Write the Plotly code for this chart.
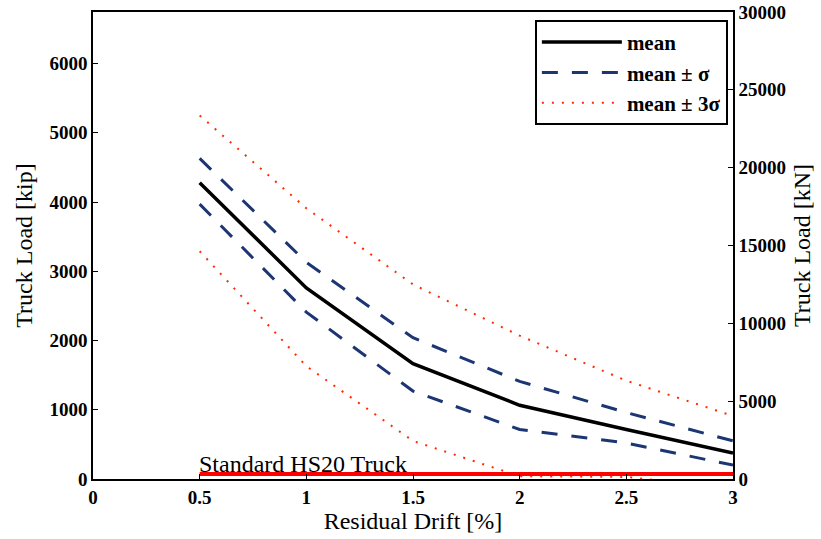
import plotly.graph_objects as go

drift = [0.5, 1.0, 1.5, 2.0, 2.5, 3.0]
mean = [4280, 2760, 1665, 1065, 715, 375]
mean_plus_sigma = [4630, 3130, 2040, 1410, 960, 550]
mean_minus_sigma = [3970, 2410, 1270, 715, 520, 200]
mean_plus_3sigma = [5250, 3910, 2810, 2070, 1420, 910]
mean_minus_3sigma = [3290, 1630, 550, 40, 30, -140]
hs20_x = [0.5, 3.0]
hs20_load = [72, 72]
KIP_TO_KN = 4.448
y_max_kn = 30000

serif = "Liberation Serif, Times New Roman, serif"
navy = "#1c3573"
red = "#ff2a00"

fig = go.Figure()
fig.add_trace(go.Scatter(x=drift, y=mean, mode="lines", name="mean",
                         line=dict(color="black", width=3.5)))
fig.add_trace(go.Scatter(x=drift, y=mean_plus_sigma, mode="lines", name="mean ± σ",
                         line=dict(color=navy, width=3, dash="16px,14px")))
fig.add_trace(go.Scatter(x=drift, y=mean_minus_sigma, mode="lines", name="mean ± σ",
                         showlegend=False, line=dict(color=navy, width=3, dash="16px,14px")))
fig.add_trace(go.Scatter(x=drift, y=mean_plus_3sigma, mode="lines", name="mean ± 3σ",
                         line=dict(color=red, width=2, dash="2px,8px")))
fig.add_trace(go.Scatter(x=drift, y=mean_minus_3sigma, mode="lines", name="mean ± 3σ",
                         showlegend=False, line=dict(color=red, width=2, dash="2px,8px")))
fig.add_trace(go.Scatter(x=hs20_x, y=hs20_load, mode="lines", showlegend=False,
                         line=dict(color="#ff0000", width=4)))
fig.add_trace(go.Scatter(x=drift, y=[v * KIP_TO_KN for v in mean], yaxis="y2",
                         mode="lines", opacity=0, showlegend=False, hoverinfo="skip",
                         line=dict(color="black", width=0)))

fig.add_annotation(x=hs20_x[0], y=hs20_load[0], text="Standard HS20 Truck",
                   xanchor="left", yanchor="bottom", showarrow=False, xshift=-3, yshift=-5,
                   font=dict(family=serif, size=24, color="black"))

tickfont = dict(family=serif, size=19, color="black", weight="bold")
titlefont = dict(family=serif, size=24, color="black")

fig.update_layout(
    width=821, height=539,
    margin=dict(l=93, r=88, t=12, b=60),
    plot_bgcolor="white", paper_bgcolor="white",
    showlegend=True,
    legend=dict(x=0.992, y=0.983, xanchor="right", yanchor="top",
                bgcolor="white", bordercolor="black", borderwidth=2,
                font=dict(family=serif, size=21, color="black", weight="bold"),
                itemwidth=80, tracegroupgap=0),
    xaxis=dict(range=[0, 3], tickvals=[0, 0.5, 1, 1.5, 2, 2.5, 3],
               ticktext=["0", "0.5", "1", "1.5", "2", "2.5", "3"],
               ticks="inside", ticklen=5, tickcolor="black", tickwidth=1,
               showline=True, linecolor="black", linewidth=1.5, mirror=True,
               showgrid=False, zeroline=False, tickfont=tickfont, automargin=False,
               title=dict(text="Residual Drift [%]", font=titlefont, standoff=3)),
    yaxis=dict(range=[0, y_max_kn / KIP_TO_KN], tickvals=[0, 1000, 2000, 3000, 4000, 5000, 6000],
               tickformat="d",
               ticks="inside", ticklen=5, tickcolor="black", tickwidth=1,
               showline=True, linecolor="black", linewidth=1.5,
               showgrid=False, zeroline=False, tickfont=tickfont, automargin=False,
               title=dict(text="Truck Load [kip]", font=titlefont, standoff=10)),
    yaxis2=dict(range=[0, y_max_kn], tickvals=[0, 5000, 10000, 15000, 20000, 25000, 30000],
                tickformat="d", overlaying="y", side="right",
                ticks="inside", ticklen=5, tickcolor="black", tickwidth=1,
                showline=True, linecolor="black", linewidth=1.5,
                showgrid=False, zeroline=False, tickfont=tickfont, automargin=False,
                title=dict(text="Truck Load [kN]", font=titlefont, standoff=8)),
)

fig.write_html("out.html", config={"displayModeBar": False},
               post_script="document.body.style.margin='0';")
